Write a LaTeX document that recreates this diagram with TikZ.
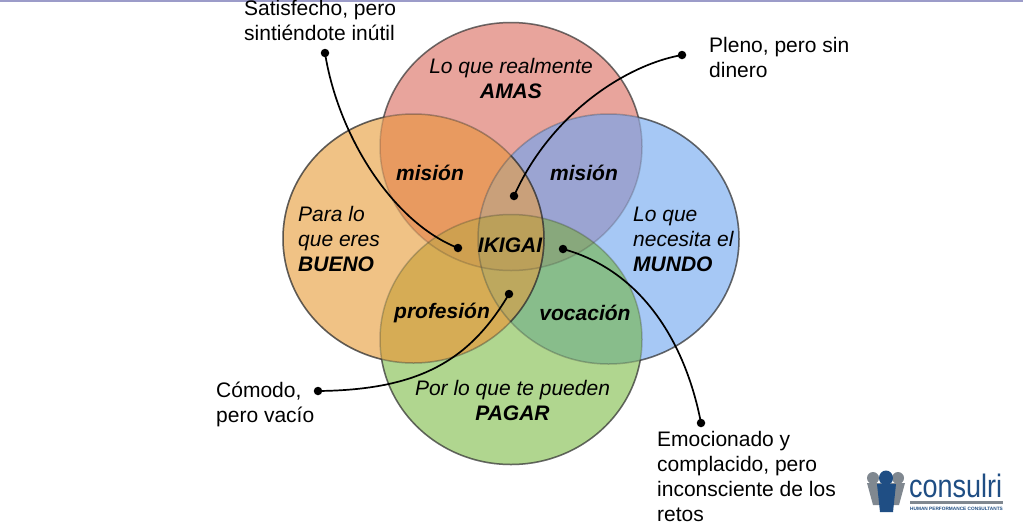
\documentclass[tikz,border=0pt]{standalone}
\usepackage{fontspec}
\setmainfont{Liberation Sans}
\newcommand{\lbl}{\fontsize{21}{25}\selectfont}
\definecolor{cT}{HTML}{E8A49C}\definecolor{cL}{HTML}{F0C285}\definecolor{cR}{HTML}{A6C8F5}\definecolor{cB}{HTML}{B0D68F}
\definecolor{cTL}{HTML}{E89A60}\definecolor{cTR}{HTML}{9BA4D2}\definecolor{cLB}{HTML}{D6AC55}\definecolor{cRB}{HTML}{88BD8B}
\definecolor{cTLR}{HTML}{C9A07A}\definecolor{cTLB}{HTML}{CFA050}\definecolor{cTRB}{HTML}{88A87C}\definecolor{cLRB}{HTML}{BDA85E}\definecolor{cALL}{HTML}{BBA05A}
\definecolor{logoblue}{HTML}{1F4E84}\definecolor{logogray}{HTML}{808890}
\tikzset{x=1pt,y=-1pt,
 rim/.style={draw=black!80,draw opacity=#1,line width=1.5pt},
 incircle/.style={font=\lbl\itshape,align=center,inner sep=0pt},
 inbold/.style={font=\lbl\itshape\bfseries,align=center,inner sep=0pt},
 inleft/.style={font=\lbl\itshape,align=left,inner sep=0pt,anchor=north west},
 callout/.style={font=\lbl,align=left,inner sep=0pt,anchor=north west},
 pin/.style={circle,fill=black,inner sep=0pt,minimum size=8.5pt},
 wire/.style={line width=1.7pt,black}}
\newcommand{\cT}{(511,146.5) ellipse[x radius=131,y radius=124]}
\newcommand{\cL}{(413.5,238.5) ellipse[x radius=130.5,y radius=124.5]}
\newcommand{\cR}{(608.5,239) ellipse[x radius=130.5,y radius=125]}
\newcommand{\cB}{(511,339.5) ellipse[x radius=131,y radius=125]}
\newcommand{\cutout}[1]{\clip (-5,-5) rectangle (1030,535) #1;}
\begin{document}
\begin{tikzpicture}
\useasboundingbox (0,0) rectangle (1023,528);
\fill[white] (0,0) rectangle (1023,528);
\fill[gray!70!blue!60] (0,0) rectangle (1023,1.5);
% regions
\fill[cT] \cT; \fill[cL] \cL; \fill[cR] \cR; \fill[cB] \cB;
\begin{scope}\clip \cT; \fill[cTL] \cL; \fill[cTR] \cR; \end{scope}
\begin{scope}\clip \cB; \fill[cLB] \cL; \fill[cRB] \cR; \end{scope}
\begin{scope}\clip \cT; \clip \cB; \fill[cTLB] \cL; \fill[cTRB] \cR; \end{scope}
\begin{scope}\clip \cL; \clip \cR; \fill[cTLR] \cT; \fill[cLRB] \cB; \begin{scope}\clip \cT; \fill[cALL] \cB; \end{scope}\end{scope}
% rims: inner arcs fainter, outer arcs darker
\path[rim=.22] \cT; \path[rim=.28] \cB; \path[rim=.3] \cR; \path[rim=.4] \cL;
\begin{scope}[even odd rule]\cutout{\cL}\cutout{\cR}\cutout{\cB}\path[rim=.62] \cT;\end{scope}
\begin{scope}[even odd rule]\cutout{\cL}\cutout{\cR}\cutout{\cT}\path[rim=.62] \cB;\end{scope}
\begin{scope}[even odd rule]\cutout{\cL}\cutout{\cT}\cutout{\cB}\path[rim=.62] \cR;\end{scope}
\begin{scope}[even odd rule]\cutout{\cR}\cutout{\cT}\cutout{\cB}\path[rim=.62] \cL;\end{scope}
\begin{scope}\clip \cR; \path[rim=.7] \cL;\end{scope}
% circle texts
\node[incircle] (tAmas) at (511,78) {Lo que realmente\\\textbf{AMAS}};
\node[inleft] (tBueno) at (298,206.5) {Para lo\\que eres\\\textbf{BUENO}};
\node[inleft] (tMundo) at (633,206.5) {Lo que\\necesita el\\\textbf{MUNDO}};
\node[incircle] (tPagar) at (512.5,400.5) {Por lo que te pueden\\\textbf{PAGAR}};
\node[inbold] (m1) at (430,173) {misión};
\node[inbold] (m2) at (584,173) {misión};
\node[inbold] (ik) at (510,245) {IKIGAI};
\node[inbold] (pr) at (442,313) {profesión};
\node[inbold] (vo) at (585,313) {vocación};
% callouts
\node[callout] (c1) at (244,0) {Satisfecho, pero\\sintiéndote inútil};
\node[callout] (c2) at (709,37) {Pleno, pero sin\\dinero};
\node[callout] (c3) at (216,382) {Cómodo,\\pero vacío};
\node[callout] (c4) at (657,431) {Emocionado y\\complacido, pero\\inconsciente de los\\retos};
% pins
\node[pin] (a1) at (325,53) {}; \node[pin] (b1) at (458,248) {};
\node[pin] (a2) at (682,55) {}; \node[pin] (b2) at (514,196) {};
\node[pin] (a3) at (318,391) {}; \node[pin] (b3) at (509,294) {};
\node[pin] (a4) at (701,423) {}; \node[pin] (b4) at (563,249) {};
\draw[wire] (a1.center) .. controls (338,135) and (392,222) .. (b1.center);
\draw[wire] (a2.center) .. controls (625,65) and (550,115) .. (b2.center);
\draw[wire] (a3.center) .. controls (420,390) and (470,360) .. (b3.center);
\draw[wire] (b4.center) .. controls (640,270) and (685,340) .. (a4.center);
% logo
\fill[logogray] (873,478) circle[radius=6]; \fill[logogray] (898,478) circle[radius=6];
\fill[logogray] (867,483) -- (881,483) -- (881,505) -- (873,505) -- cycle;
\fill[logogray] (891,483) -- (905,483) -- (899,505) -- (891,505) -- cycle;
\fill[logoblue] (886,478) ellipse[x radius=7,y radius=7.5];
\fill[logoblue] (877,484) -- (896,484) -- (893,512) -- (880,512) -- cycle;
\node[inner sep=0pt,anchor=base west,text=logoblue,font=\fontsize{27}{27}\selectfont] (lg) at (909,497) {\scalebox{1}[1.2]{consulri}};
\fill[logogray] (909.5,501) rectangle (1002.5,504);
\node[inner sep=0pt,anchor=west,text=logoblue,font=\fontsize{4.75}{5}\selectfont\bfseries] (ls) at (910,509) {HUMAN PERFORMANCE CONSULTANTS};
\end{tikzpicture}
\end{document}
